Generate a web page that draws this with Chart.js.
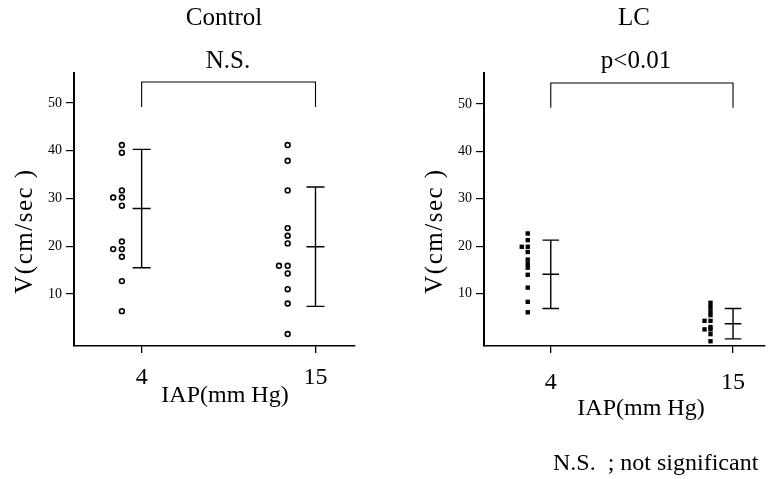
<!DOCTYPE html>
<html>
<head>
<meta charset="utf-8">
<script src="https://cdn.jsdelivr.net/npm/chart.js@4.4.1/dist/chart.umd.min.js"></script>
<style>
  html, body { margin: 0; padding: 0; background: #fff; }
  #wrap { position: relative; width: 771px; height: 479px; }
  #left { position: absolute; left: 0; top: 0; }
  #right { position: absolute; left: 390px; top: 0; }
  #note { position: absolute; left: 553px; top: 450px; font: 24px "Liberation Serif", serif; line-height: 1; white-space: pre; }
</style>
</head>
<body>
<div id="wrap">
  <canvas id="left" width="390" height="479"></canvas>
  <canvas id="right" width="381" height="479"></canvas>
  <div id="note">N.S.  ; not significant</div>
</div>
<script>
// values, V (cm/sec)
const iapLevels = [4, 15];
const yTicks = [10, 20, 30, 40, 50];

const controlAt4 = [41.2, 39.6, 31.7, 30.2, 30.2, 28.5, 21.0, 19.4, 19.4, 17.8, 12.7, 6.4];
const controlAt15 = [41.2, 37.9, 31.7, 23.8, 22.2, 20.6, 15.9, 15.9, 14.3, 11.0, 8.0, 1.6];
const controlMean = [27.9, 19.9];
const controlSd = [12.4, 12.5];

const lcAt4 = [22.7, 21.3, 19.9, 19.9, 18.8, 17.2, 16.3, 15.5, 14.0, 11.3, 8.3, 6.1];
const lcAt15 = [8.1, 7.2, 6.3, 5.5, 4.3, 4.3, 3.0, 2.5, 2.5, 1.5, 0.0];
const lcMean = [14.1, 3.7];
const lcSd = [7.2, 3.2];

const serif = '"Liberation Serif", "Times New Roman", serif';

// repeated values get pushed to the left, like the original dot plot
function columnPoints(values, x, dup) {
  const seen = {};
  return values.map(v => {
    const k = v.toFixed(1);
    const n = seen[k] || 0;
    seen[k] = n + 1;
    return { x: x - n * dup, y: v };
  });
}

// mean +/- SD bar, segments split with null gaps
function errorBar(x, mean, sd, cap) {
  const hi = mean + sd, lo = mean - sd;
  return [
    { x: x - cap, y: hi }, { x: x + cap, y: hi }, { x: x, y: null },
    { x: x, y: hi }, { x: x, y: lo }, { x: x, y: null },
    { x: x - cap, y: lo }, { x: x + cap, y: lo }, { x: x, y: null },
    { x: x - cap, y: mean }, { x: x + cap, y: mean }
  ];
}

const panelText = {
  id: 'panelText',
  afterDraw(chart, args, o) {
    const ctx = chart.ctx;
    ctx.save();
    ctx.fillStyle = '#000';
    ctx.textAlign = 'center';
    ctx.textBaseline = 'middle';
    ctx.font = '25px ' + serif;
    ctx.fillText(o.title, o.titleX, 18);
    ctx.fillText(o.sig, o.sigX, 61);
    ctx.font = '24px ' + serif;
    ctx.fillText('IAP(mm Hg)', o.xTitleX, o.xTitleY);
    ctx.translate(o.yTitleX, o.yTitleY);
    ctx.rotate(-Math.PI / 2);
    ctx.font = '25px ' + serif;
    ctx.letterSpacing = '1.5px';
    ctx.fillText('V(cm/sec )', 0, 0);
    ctx.restore();
  }
};

function makePanel(id, p) {
  const lineSet = data => ({
    data: data, showLine: true, pointRadius: 0, borderColor: '#000',
    borderWidth: 1.4, spanGaps: false
  });
  return new Chart(document.getElementById(id), {
    type: 'scatter',
    data: {
      datasets: [
        Object.assign({ data: columnPoints(p.at4, iapLevels[0] - p.shift[0], p.dup) }, p.marker),
        Object.assign({ data: columnPoints(p.at15, iapLevels[1] - p.shift[1], p.dup) }, p.marker),
        lineSet(errorBar(iapLevels[0], p.mean[0], p.sd[0], p.cap)),
        lineSet(errorBar(iapLevels[1], p.mean[1], p.sd[1], p.cap)),
        Object.assign(lineSet([
          { x: iapLevels[0], y: 49.2 }, { x: iapLevels[0], y: 54.4 },
          { x: iapLevels[1], y: 54.4 }, { x: iapLevels[1], y: 49.2 }
        ]), { borderWidth: 1.1 })
      ]
    },
    options: {
      responsive: false,
      animation: false,
      layout: { padding: { top: 73, right: p.padRight, left: 0, bottom: 0 } },
      plugins: {
        legend: { display: false },
        tooltip: { enabled: false },
        panelText: p.text
      },
      scales: {
        x: {
          type: 'linear', min: p.xMin, max: p.xMax,
          afterFit: s => { s.height = 133; },
          afterBuildTicks: s => { s.ticks = iapLevels.map(v => ({ value: v })); },
          grid: { drawOnChartArea: false, tickLength: 7, color: '#000', lineWidth: 1.3 },
          border: { color: '#000', width: 1.5 },
          ticks: { color: '#000', font: { family: serif, size: 24 }, padding: p.xPad, callback: v => String(v) }
        },
        y: {
          min: p.yMin, max: p.yMax,
          afterFit: s => { s.width = p.yWidth; },
          afterBuildTicks: s => { s.ticks = yTicks.map(v => ({ value: v })); },
          grid: { drawOnChartArea: false, tickLength: 8, color: '#000', lineWidth: 1.2 },
          border: { color: '#000', width: 2 },
          ticks: { color: '#000', font: { family: serif, size: 14 }, padding: 4, callback: v => String(v) }
        }
      }
    },
    plugins: [panelText]
  });
}

makePanel('left', {
  at4: controlAt4, at15: controlAt15, mean: controlMean, sd: controlSd,
  shift: [1.25, 1.76], dup: 0.55, cap: 0.57,
  xMin: -0.28, xMax: 17.5, yMin: -0.9, yMax: 56.3,
  yWidth: 74, padRight: 35, xPad: 10,
  marker: { pointStyle: 'circle', pointRadius: 2.4, borderWidth: 1.6, borderColor: '#000', backgroundColor: '#fff' },
  text: { title: 'Control', sig: 'N.S.', titleX: 224, sigX: 228, xTitleX: 225, xTitleY: 396, yTitleX: 25, yTitleY: 231 }
});

makePanel('right', {
  at4: lcAt4, at15: lcAt15, mean: lcMean, sd: lcSd,
  shift: [1.39, 1.36], dup: 0.36, cap: 0.5,
  xMin: -0.03, xMax: 16.93, yMin: -1.0, yMax: 56.5,
  yWidth: 94, padRight: 6, xPad: 15,
  marker: { pointStyle: 'rect', pointRadius: 3.1, borderWidth: 0, backgroundColor: '#000' },
  text: { title: 'LC', sig: 'p<0.01', titleX: 244, sigX: 246, xTitleX: 251, xTitleY: 409, yTitleX: 45, yTitleY: 231 }
});
</script>
</body>
</html>
